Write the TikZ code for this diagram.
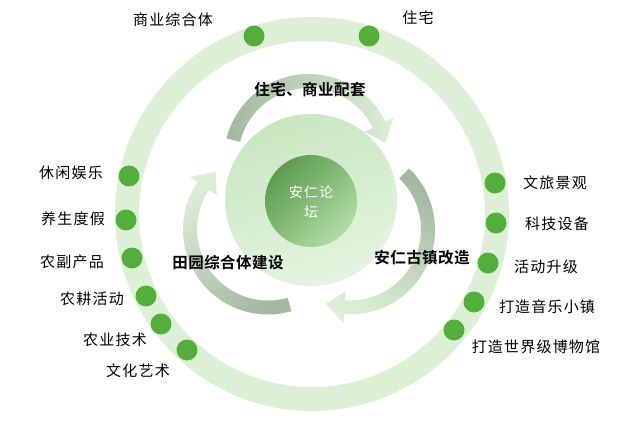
\documentclass[tikz,border=0pt]{standalone}
\usepackage{fontspec}
\newfontfamily\cjk[LetterSpace=8]{Noto Sans CJK SC}
\newfontfamily\cjkbold[LetterSpace=3]{Noto Sans CJK SC Bold}
\usetikzlibrary{calc}
\definecolor{ringgreen}{RGB}{220,240,214}
\definecolor{dotgreen}{RGB}{84,174,60}
\definecolor{arrowdark}{RGB}{163,184,160}
\definecolor{arrowlight}{RGB}{220,239,214}
\definecolor{bigtop}{RGB}{200,231,192}
\definecolor{bigbot}{RGB}{228,244,223}
\definecolor{coredark}{RGB}{92,156,78}
\definecolor{corelight}{RGB}{178,220,166}
\tikzset{
  dotn/.style={circle, fill=dotgreen, minimum size=21pt, inner sep=0pt},
  lab/.style={font=\cjk\fontsize{15}{18}\selectfont, inner sep=0pt, text=black},
  blab/.style={font=\cjkbold\fontsize{15.5}{18}\selectfont, inner sep=0pt, text=black},
}
\newcommand\cyclearrow[3]{%
  \begin{scope}[shift={#1}]
  \shade[top color=arrowlight, bottom color=arrowdark, shading angle=#3]
    (166+#2:85) arc[start angle=166+#2, end angle=26+#2, radius=85]
    -- (26+#2:94) -- (12+#2:78) -- (26+#2:62) -- (26+#2:71)
    arc[start angle=26+#2, end angle=166+#2, radius=71] -- cycle;
  \end{scope}}
\begin{document}
\begin{tikzpicture}[x=1pt,y=1pt]
\useasboundingbox (0,0) rectangle (624,421);
\fill[white] (0,0) rectangle (624,421);
% outer ring
\fill[ringgreen, even odd rule] (312,207) circle[radius=197] (312,207) circle[radius=173];
% dots
\node[dotn] (d1) at (254,385) {};
\node[dotn] (d2) at (369,385) {};
\node[dotn] (d3) at (129,245) {};
\node[dotn] (d4) at (126,201) {};
\node[dotn] (d5) at (132,163) {};
\node[dotn] (d6) at (146,125) {};
\node[dotn] (d7) at (161,97) {};
\node[dotn] (d8) at (187,71) {};
\node[dotn] (d9) at (495,238) {};
\node[dotn] (d10) at (496,198) {};
\node[dotn] (d11) at (488,158) {};
\node[dotn] (d12) at (474,119) {};
\node[dotn] (d13) at (454,91) {};
% center circles
\shade[top color=bigtop, bottom color=bigbot, shading angle=20] (311,221) circle[radius=86];
\shade[top color=coredark, bottom color=corelight, shading angle=45] (311,220) circle[radius=46];
\node[font=\cjk\fontsize{14}{20}\selectfont, text=white, align=center, inner sep=0pt] (core) at (311,219) {安仁论\\坛};
% cycle arrows
\cyclearrow{(309,262)}{0}{-90}
\cyclearrow{(268,191.5)}{120}{30}
\cyclearrow{(350,191.5)}{-120}{150}
% labels
\node[lab] (l1) at (173,401) {商业综合体};
\node[lab] (l2) at (418,403) {住宅};
\node[lab] (l3) at (71,248) {休闲娱乐};
\node[lab] (l4) at (73,202) {养生度假};
\node[lab] (l5) at (72,159) {农副产品};
\node[lab] (l6) at (92,122) {农耕活动};
\node[lab] (l7) at (115,81) {农业技术};
\node[lab] (l8) at (138,50) {文化艺术};
\node[lab] (l9) at (555,238) {文旅景观};
\node[lab] (l10) at (557,197) {科技设备};
\node[lab] (l11) at (546,154) {活动升级};
\node[lab] (l12) at (547,114) {打造音乐小镇};
\node[lab] (l13) at (536,74) {打造世界级博物馆};
\node[blab] (b1) at (310,331) {住宅、商业配套};
\node[blab] (b2) at (228,158) {田园综合体建设};
\node[blab] (b3) at (422,163) {安仁古镇改造};
\end{tikzpicture}
\end{document}
